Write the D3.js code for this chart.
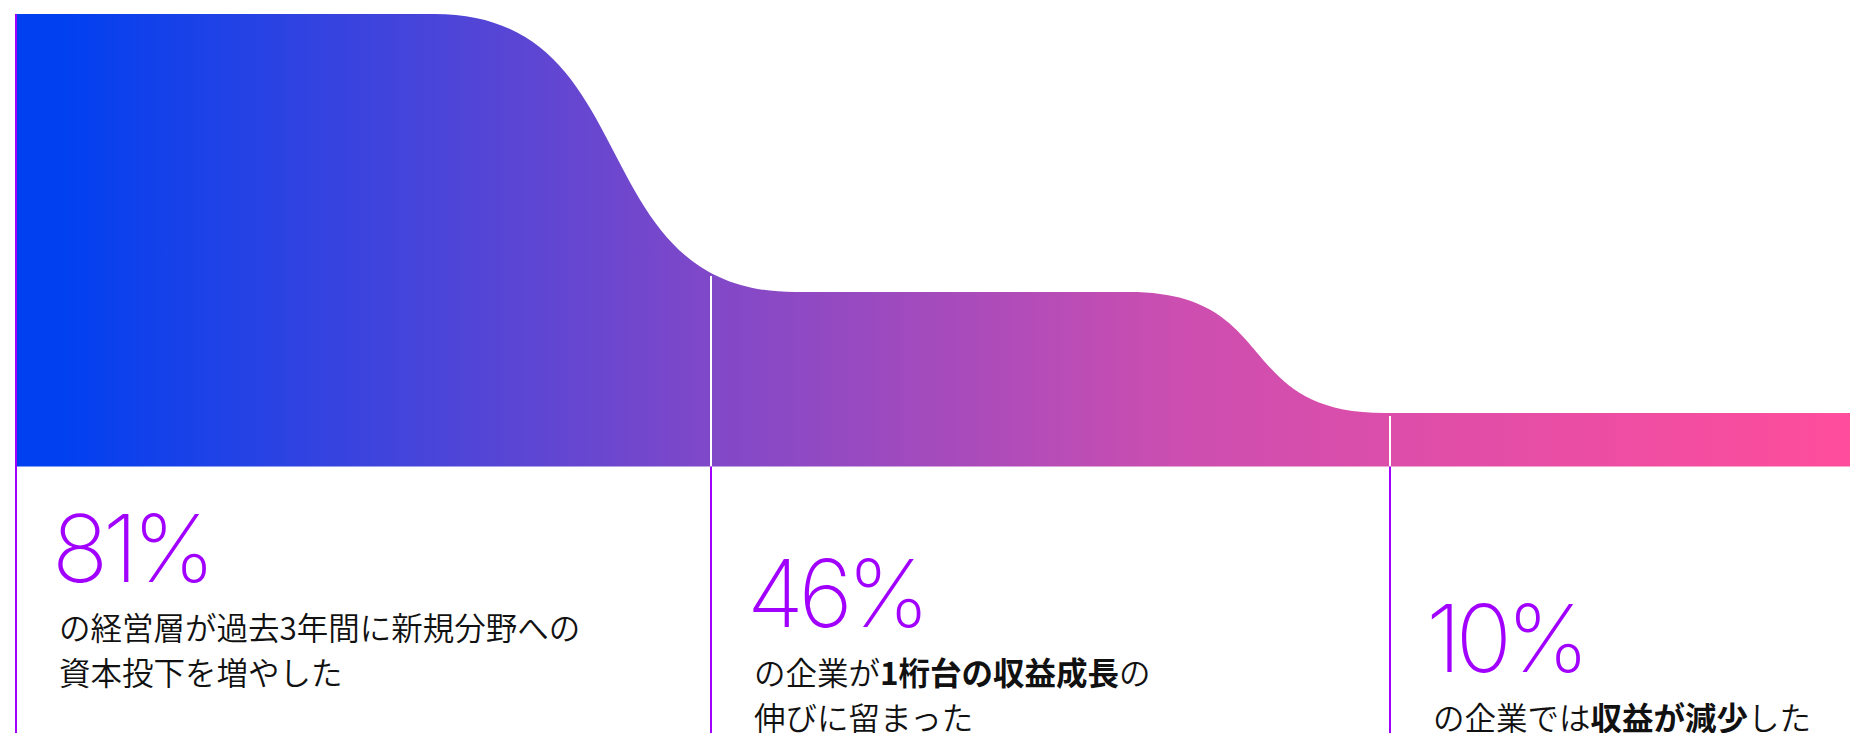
<!DOCTYPE html>
<html lang="ja">
<head>
<meta charset="utf-8">
<script src="https://cdn.jsdelivr.net/npm/d3@7"></script>
<style>
    html, body { margin: 0; padding: 0; background: #fff; overflow: hidden; }
    .big-number { font-family: "Inter", "Lato", sans-serif; font-weight: 200; fill: #a100ff; }
    .caption { font-family: "Noto Sans CJK JP", sans-serif; font-weight: 350; fill: #111; }
    .caption .strong { font-weight: 700; }
</style>
</head>
<body>
<div class="draw-area"></div>
<script>
// ===================================================
// DATA
// ===================================================
const stages = ["新規分野への投資", "1桁台の収益成長", "収益減少"];
const values = [81, 46, 10];
const valueLabels = ["81%", "46%", "10%"];

// each caption: lines -> segments [text, bold?]
const captions = [
    [[["の経営層が過去3年間に新規分野への", false]], [["資本投下を増やした", false]]],
    [[["の企業が", false], ["1桁台の収益成長", true], ["の", false]], [["伸びに留まった", false]]],
    [[["の企業では", false], ["収益が減少", true], ["した", false]]]
];

// ===================================================
// LAYOUT
// ===================================================
const width = 1850;
const height = 733;
const bandTop = 14;
const bandBottom = 466.5;

// column starts (dividers)
const colX = d3.scaleLinear().domain([0, 1, 2]).range([16, 711, 1390]);

// band height per value (designer scale, not proportional)
const y = d3.scaleLinear().domain([0, 10, 46, 81]).range([bandBottom, 413, 292, bandTop]);

// where each step starts bending and where it lands (relative to columns)
const bendStart = 418;
const bendEnd = [84, -5];
const bendPull = 0.6;   // control handle length as share of bend width (> 0.5 = steeper middle)

const svg = d3.select(".draw-area")
    .append("svg")
    .attr("width", width)
    .attr("height", height);

// Gradient blue -> purple -> pink
const defs = svg.append("defs");
const grad = defs.append("linearGradient")
    .attr("id", "flow-grad")
    .attr("gradientUnits", "userSpaceOnUse")
    .attr("x1", 0).attr("x2", width).attr("y1", 0).attr("y2", 0);
[[60, "#0040f0"], [711, "#8048c8"], [1180, "#cc4eb0"], [1850, "#ff4d9c"]].forEach(([x, c]) => {
    grad.append("stop").attr("offset", x / width).attr("stop-color", c);
});

// Flow outline: flat runs joined by S-bends
const runs = values.map((v, i) => ({
    x0: i === 0 ? colX(0) : colX(i) + bendEnd[i - 1],
    x1: i === values.length - 1 ? width : colX(i) + bendStart,
    y: y(v)
}));

function topPath(p) {
    p.moveTo(runs[0].x0, runs[0].y);
    runs.forEach((r, i) => {
        p.lineTo(r.x1, r.y);
        const next = runs[i + 1];
        if (next) {
            const k = (next.x0 - r.x1) * bendPull;
            p.bezierCurveTo(r.x1 + k, r.y, next.x0 - k, next.y, next.x0, next.y);
        }
    });
    return p;
}

const band = topPath(d3.path());
band.lineTo(width, bandBottom);
band.lineTo(runs[0].x0, bandBottom);
band.closePath();

svg.append("path")
    .attr("d", band.toString())
    .attr("fill", "url(#flow-grad)");

// hidden outline, used to find the top of the band at a given x
const outline = svg.append("path")
    .attr("d", topPath(d3.path()).toString())
    .attr("fill", "none")
    .attr("stroke", "none");

function topAt(xPos) {
    const node = outline.node();
    let lo = 0, hi = node.getTotalLength();
    for (let k = 0; k < 40; k++) {
        const mid = (lo + hi) / 2;
        if (node.getPointAtLength(mid).x < xPos) lo = mid; else hi = mid;
    }
    return node.getPointAtLength(lo).y;
}

// Dividers: white inside band, purple below
const dividers = svg.append("g");
stages.forEach((s, i) => {
    const x = colX(i);
    if (i > 0) {
        dividers.append("line")
            .attr("x1", x).attr("x2", x)
            .attr("y1", topAt(x) + 3).attr("y2", bandBottom)
            .attr("stroke", "#fff").attr("stroke-width", 2);
    }
    dividers.append("line")
        .attr("x1", x).attr("x2", x)
        .attr("y1", i === 0 ? bandTop : bandBottom).attr("y2", height)
        .attr("stroke", "#a100ff").attr("stroke-width", 2);
});

// Labels
const lineGap = 45;
const labels = svg.append("g");
stages.forEach((s, i) => {
    const x0 = colX(i);
    const base = 582 + i * 45;

    labels.append("text")
        .attr("class", "big-number")
        .attr("x", x0 + 36)
        .attr("y", base)
        .attr("font-size", 93)
        .attr("letter-spacing", -5.5)
        .text(valueLabels[i]);

    const cap = labels.append("text")
        .attr("class", "caption")
        .attr("font-size", 31.5);
    captions[i].forEach((line, li) => {
        line.forEach(([t, bold], si) => {
            const ts = cap.append("tspan").text(t).classed("strong", bold);
            if (si === 0) ts.attr("x", x0 + 43).attr("y", base + 58 + li * lineGap);
        });
    });
});
</script>
</body>
</html>
